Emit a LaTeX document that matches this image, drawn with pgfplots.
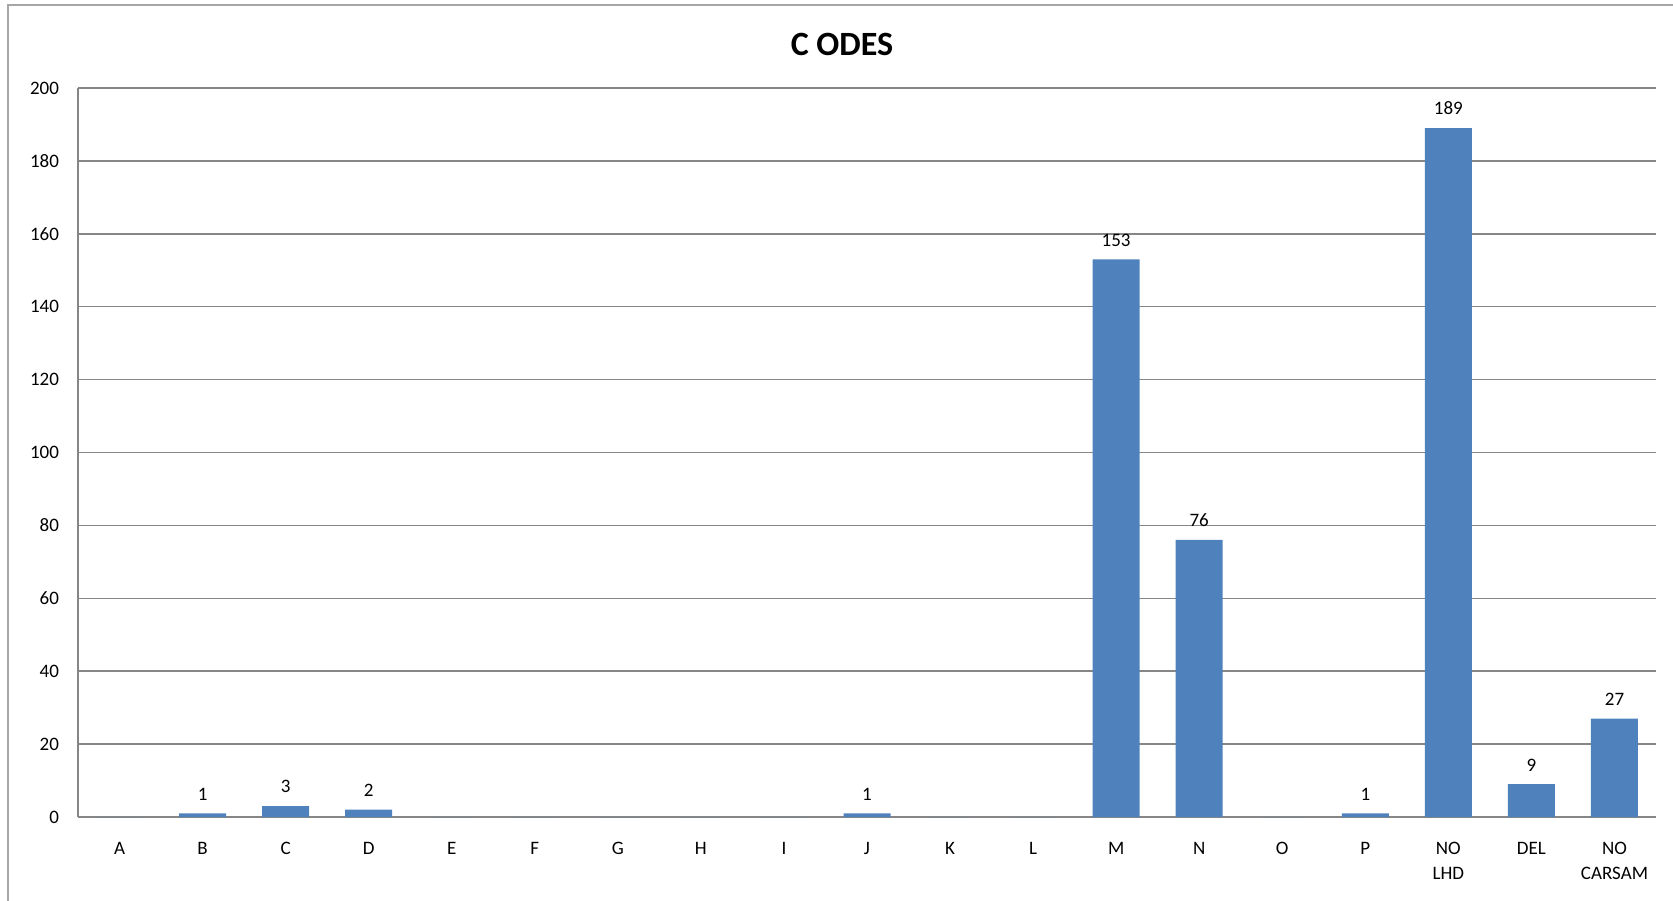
\documentclass[border=0pt]{standalone}
\usepackage{fontspec}
\setmainfont{Carlito}
\usepackage{pgfplots}
\pgfplotsset{compat=1.18}
\definecolor{barblue}{HTML}{4F81BD}
\definecolor{gridgray}{HTML}{868686}
\definecolor{framegray}{HTML}{A6A6A6}

\begin{document}
\begin{tikzpicture}
% page = 1673 x 900 px at 0.5pt/px, origin at the axis' lower left corner
\useasboundingbox (-39pt,-41.5pt) rectangle (797.5pt,408.5pt);
\draw[framegray,line width=1pt] (-35pt,-50pt) -- (-35pt,406pt) -- (810pt,406pt);
\node[font=\fontsize{17}{19}\selectfont\bfseries] at (382pt,386.5pt) {C ODES};
\begin{axis}[
  at={(0,0)}, anchor=south west,
  scale only axis,
  width=789pt, height=364.5pt,
  xmin=-0.5, xmax=18.5,
  ymin=0, ymax=200,
  ytick={0,20,...,200},
  xtick={0,...,18},
  xticklabels={A,B,C,D,E,F,G,H,I,J,K,L,M,N,O,P,{NO\\LHD},DEL,{NO\\CARSAM}},
  axis x line*=bottom, axis y line*=left,
  axis line style={gridgray,line width=0.9pt,-},
  ymajorgrids=true,
  grid style={gridgray,line width=0.75pt},
  major tick length=0pt,
  tick label style={font=\fontsize{9.5}{12.5}\selectfont},
  /pgf/number format/assume math mode=true,
  yticklabel style={xshift=-6pt},
  xticklabel style={align=center,yshift=-9.2pt},
  ybar, bar width=23.5pt,
  nodes near coords={\pgfmathfloatifflags{\pgfplotspointmeta}{0}{}{\pgfmathprintnumber{\pgfplotspointmeta}}},
  every node near coord/.append style={font=\fontsize{9.5}{11.5}\selectfont,yshift=3pt},
]
\addplot[fill=barblue,draw=none] coordinates {
  (0,0) (1,1) (2,3) (3,2) (4,0) (5,0) (6,0) (7,0) (8,0) (9,1)
  (10,0) (11,0) (12,153) (13,76) (14,0) (15,1) (16,189) (17,9) (18,27)
};
\end{axis}
\end{tikzpicture}
\end{document}
